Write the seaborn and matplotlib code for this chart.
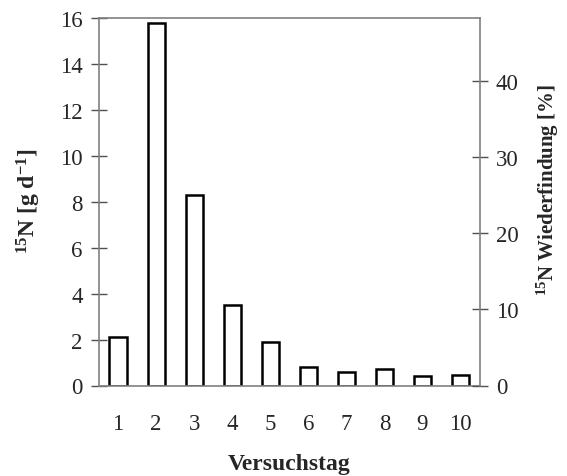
import numpy as np
import pandas as pd
import matplotlib
matplotlib.use('Agg')
import matplotlib.pyplot as plt
import seaborn as sns

# 15N excretion per experimental day
days = [1, 2, 3, 4, 5, 6, 7, 8, 9, 10]
n15 = [2.1, 15.8, 8.3, 3.5, 1.9, 0.8, 0.6, 0.7, 0.4, 0.45]
left_ticks = [0, 2, 4, 6, 8, 10, 12, 14, 16]
right_ticks = [0, 10, 20, 30, 40]
right_max = 48.2

df = pd.DataFrame({'Versuchstag': days, 'N15': n15})

sns.set_style('white')
plt.rcParams['font.family'] = ['Liberation Serif', 'DejaVu Serif']
plt.rcParams['mathtext.fontset'] = 'custom'
plt.rcParams['mathtext.rm'] = 'Liberation Serif'
plt.rcParams['mathtext.bf'] = 'Liberation Serif:bold'

grey = '#808080'
fs = 16.5

fig = plt.figure(figsize=(5.67, 4.77), dpi=100)
ax = fig.add_axes([99 / 567, 90.5 / 477, 380.5 / 567, 367.5 / 477])

sns.barplot(data=df, x='Versuchstag', y='N15', ax=ax, color='white',
            edgecolor='black', linewidth=1.8, width=0.45, saturation=1)

ax.set_xlim(-0.5, 9.5)
ax.set_ylim(0, 16)
ax.set_yticks(left_ticks)
ax.set_xticks(np.arange(-0.5, 10, 1))
ax.set_xticklabels([])
ax.set_xticks(range(10), minor=True)
ax.set_xticklabels([str(d) for d in days], minor=True)

ax.tick_params(axis='x', which='major', direction='inout', length=10,
               width=1, color='#505050')
ax.tick_params(axis='x', which='minor', length=0, pad=20, labelsize=fs)
ax.tick_params(axis='y', direction='inout', length=11.5, width=1,
               color='#505050', labelsize=fs, pad=6)

for s in ['left', 'top', 'bottom']:
    ax.spines[s].set_color(grey)
    ax.spines[s].set_linewidth(1.2)
ax.spines['right'].set_visible(False)

ax.set_xlabel('Versuchstag', fontsize=17, fontweight='bold')
ax.xaxis.set_label_coords(0.5, -0.183)
ax.set_ylabel(r'$\mathbf{^{15}}$N [g d$\mathbf{^{-1}}$]', fontsize=17,
              fontweight='bold')
ax.yaxis.set_label_coords(-0.147, 0.503)

ax2 = ax.twinx()
ax2.set_ylim(0, right_max)
ax2.set_yticks(right_ticks)
ax2.tick_params(axis='y', direction='inout', length=11.5, width=1,
                color='#505050', labelsize=fs, pad=6)
for s in ['left', 'top', 'bottom']:
    ax2.spines[s].set_visible(False)
ax2.spines['right'].set_color(grey)
ax2.spines['right'].set_linewidth(1.2)
ax2.set_ylabel(r'$\mathbf{^{15}}$N Wiederfindung [%]', fontsize=15,
               fontweight='bold')
ax2.yaxis.set_label_coords(1.146, 0.535)

fig.savefig('out.png', dpi=100)
